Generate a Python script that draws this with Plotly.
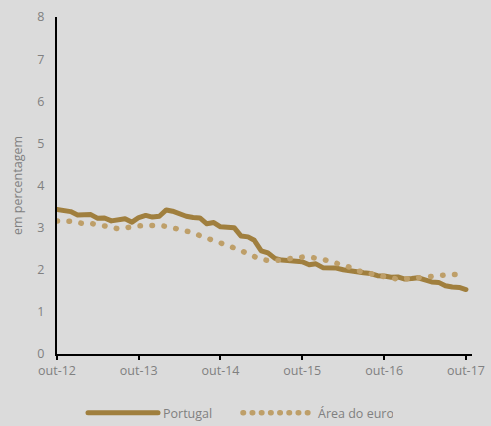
import plotly.graph_objects as go
import pandas as pd

months = pd.date_range("2012-10-01", periods=61, freq="MS")

portugal = [3.43, 3.40, 3.38, 3.30, 3.29, 3.31, 3.22, 3.23, 3.16, 3.18,
            3.21, 3.13, 3.24, 3.29, 3.25, 3.27, 3.42, 3.39, 3.32, 3.27,
            3.24, 3.23, 3.09, 3.12, 3.02, 3.01, 3.00, 2.80, 2.78, 2.70,
            2.45, 2.40, 2.27, 2.23, 2.21, 2.20, 2.19, 2.12, 2.14, 2.05,
            2.05, 2.04, 2.00, 1.97, 1.93, 1.93, 1.91, 1.86, 1.85, 1.82,
            1.83, 1.78, 1.79, 1.81, 1.76, 1.71, 1.70, 1.62, 1.59, 1.58,
            1.53]

euro = [3.16, 3.16, 3.15, 3.12, 3.09, 3.10, 3.08, 3.04, 3.01, 2.97,
        3.00, 3.03, 3.04, 3.05, 3.06, 3.05, 3.03, 3.00, 2.97, 2.92,
        2.88, 2.81, 2.75, 2.68, 2.62, 2.57, 2.53, 2.46, 2.37, 2.31,
        2.25, 2.22, 2.21, 2.24, 2.27, 2.30, 2.30, 2.30, 2.28, 2.25,
        2.20, 2.15, 2.12, 2.06, 1.98, 1.94, 1.90, 1.86, 1.84, 1.80,
        1.78, 1.77, 1.79, 1.81, 1.83, 1.84, 1.85, 1.87, 1.89, 1.89,
        1.89]

tick_dates = ["2012-10-01", "2013-10-01", "2014-10-01", "2015-10-01",
              "2016-10-01", "2017-10-01"]
tick_labels = ["out-12", "out-13", "out-14", "out-15", "out-16", "out-17"]

fig = go.Figure()
fig.add_trace(go.Scatter(x=months, y=portugal, mode="lines", name="Portugal",
                         line=dict(color="#A07F3E", width=5)))
fig.add_trace(go.Scatter(x=months, y=euro, mode="lines", name="Área do euro",
                         line=dict(color="#BE9F69", width=5.5, dash="0.5px,11.5px")))

fig.update_layout(
    width=491, height=426,
    paper_bgcolor="#DBDBDB", plot_bgcolor="#DBDBDB",
    margin=dict(l=57, r=19, t=17, b=72, autoexpand=False),
    font=dict(family="Open Sans", size=12.5, color="#808080"),
    showlegend=True,
    legend=dict(orientation="h", xref="container", yref="container",
                x=83 / 491, xanchor="left", y=1 - 413 / 426, yanchor="middle",
                font=dict(size=12.5, color="#808080"), itemwidth=70,
                entrywidth=70, entrywidthmode="pixels",
                bgcolor="rgba(0,0,0,0)"),
    xaxis=dict(range=["2012-10-01", "2017-10-28"], tickvals=tick_dates,
               ticktext=tick_labels, showgrid=False, zeroline=False,
               showline=True, linecolor="black", linewidth=2, automargin=False,
               ticks="outside", ticklen=4, tickwidth=2, tickcolor="black",
               tickfont=dict(size=12.5, color="#808080")),
    yaxis=dict(range=[0, 8], dtick=1, showgrid=False, zeroline=False,
               showline=True, linecolor="black", linewidth=2, automargin=False,
               ticks="", ticklabelstandoff=8,
               title=dict(text="em percentagem", standoff=12,
                          font=dict(size=12.5, color="#808080")),
               tickfont=dict(size=12.5, color="#808080")),
)

post_js = """
document.body.style.margin='0';
document.body.style.background='#DBDBDB';
document.body.style.overflow='hidden';
var gd = document.getElementById('{plot_id}');
var trs = gd.querySelectorAll('.scatterlayer .trace');
trs.forEach(function(t){
  t.querySelectorAll('path.js-line').forEach(function(p){
    p.style.strokeLinecap='round'; p.style.strokeLinejoin='round';
  });
});
var lg = gd.querySelectorAll('.legend .traces');
lg.forEach(function(t, i){
  t.querySelectorAll('path.js-line').forEach(function(p){
    p.style.strokeLinecap='round';
    if (i === 1) { p.style.strokeDasharray='0.5px,8.7px'; }
  });
});
"""

fig.write_html("out.html", config={"displayModeBar": False}, post_script=post_js)
